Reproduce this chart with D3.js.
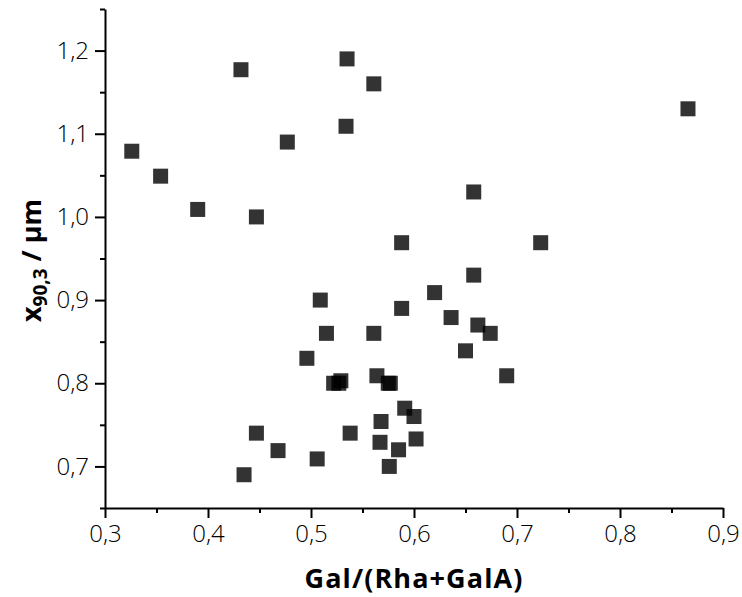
<!DOCTYPE html>
<html>
<head>
<meta charset="utf-8">
<script src="https://cdn.jsdelivr.net/npm/d3@7"></script>
<style>
  html, body { margin: 0; padding: 0; background: #fff; }
  svg { display: block; }
  text { font-family: "Open Sans", "Noto Sans", sans-serif; }
</style>
</head>
<body>
<svg id="chart" width="742" height="597"></svg>
<script>
// Data
const galRatio = [0.326, 0.354, 0.390, 0.432, 0.447, 0.477, 0.535, 0.561, 0.534, 0.658,
                  0.588, 0.658, 0.866, 0.723, 0.690, 0.620, 0.509, 0.588, 0.636, 0.662,
                  0.674, 0.515, 0.561, 0.650, 0.496, 0.529, 0.522, 0.527, 0.564, 0.575,
                  0.577, 0.591, 0.600, 0.568, 0.447, 0.538, 0.602, 0.567, 0.468, 0.585,
                  0.506, 0.576, 0.435];
const x903 =     [1.079, 1.049, 1.009, 1.177, 1.000, 1.090, 1.190, 1.160, 1.109, 1.030,
                  0.969, 0.930, 1.130, 0.969, 0.809, 0.909, 0.900, 0.890, 0.879, 0.870,
                  0.860, 0.860, 0.860, 0.839, 0.830, 0.803, 0.800, 0.800, 0.809, 0.800,
                  0.800, 0.770, 0.760, 0.754, 0.740, 0.740, 0.733, 0.729, 0.719, 0.720,
                  0.709, 0.700, 0.690];
const xMajorTicks = [0.3, 0.4, 0.5, 0.6, 0.7, 0.8, 0.9];
const xMinorTicks = [0.35, 0.45, 0.55, 0.65, 0.75, 0.85];
const yMajorTicks = [0.7, 0.8, 0.9, 1.0, 1.1, 1.2];
const yMinorTicks = [0.65, 0.75, 0.85, 0.95, 1.05, 1.15, 1.25];
const xTitle = "Gal/(Rha+GalA)";

const svg = d3.select("#chart");
const mLeft = 105, mRight = 723, mTop = 9, mBottom = 508;

const x = d3.scaleLinear().domain([0.3, 0.9]).range([mLeft, mRight]);
const y = d3.scaleLinear().domain([0.65, 1.25]).range([mBottom, mTop]);

const fmt = d => d3.format(".1f")(d).replace(".", ",");

// Points (drawn first so axes are on top)
const pts = galRatio.map((g, i) => ({ g, v: x903[i] }));
const size = 15;
svg.append("g").selectAll("rect").data(pts).join("rect")
  .attr("x", d => x(d.g) - size / 2)
  .attr("y", d => y(d.v) - size / 2)
  .attr("width", size).attr("height", size)
  .attr("fill", "#000").attr("fill-opacity", 0.8);

// X axis
const gx = svg.append("g").attr("transform", `translate(0,${mBottom})`);
gx.call(d3.axisBottom(x).tickValues(xMajorTicks).tickFormat(fmt).tickSize(10).tickPadding(7).tickSizeOuter(0));
gx.append("g").call(d3.axisBottom(x).tickValues(xMinorTicks).tickFormat("").tickSize(5).tickSizeOuter(0))
  .select(".domain").remove();

// Y axis
const gy = svg.append("g").attr("transform", `translate(${mLeft},0)`);
gy.call(d3.axisLeft(y).tickValues(yMajorTicks).tickFormat(fmt).tickSize(10).tickPadding(6).tickSizeOuter(0));
gy.append("g").call(d3.axisLeft(y).tickValues(yMinorTicks).tickFormat("").tickSize(5).tickSizeOuter(0))
  .select(".domain").remove();

svg.selectAll(".domain, .tick line").attr("stroke", "#000").attr("stroke-width", 2);
svg.selectAll(".tick text")
  .attr("font-family", "Open Sans, Noto Sans, sans-serif")
  .attr("font-size", 24).attr("font-weight", 350).attr("fill", "#000");

// X title
svg.append("text")
  .attr("x", (mLeft + mRight) / 2).attr("y", 588)
  .attr("text-anchor", "middle")
  .attr("font-size", 27).attr("font-weight", 700).attr("fill", "#000")
  .attr("letter-spacing", 1.1)
  .text(xTitle);

// Y title
const yt = svg.append("text")
  .attr("transform", `translate(41,${(mTop + mBottom) / 2 + 2}) rotate(-90)`)
  .attr("text-anchor", "middle")
  .attr("font-size", 27).attr("font-weight", 700).attr("fill", "#000");
yt.append("tspan").text("x");
yt.append("tspan").attr("font-size", 19).attr("dy", 6).text("90,3");
yt.append("tspan").attr("dy", -6).text(" / µm");
</script>
</body>
</html>
